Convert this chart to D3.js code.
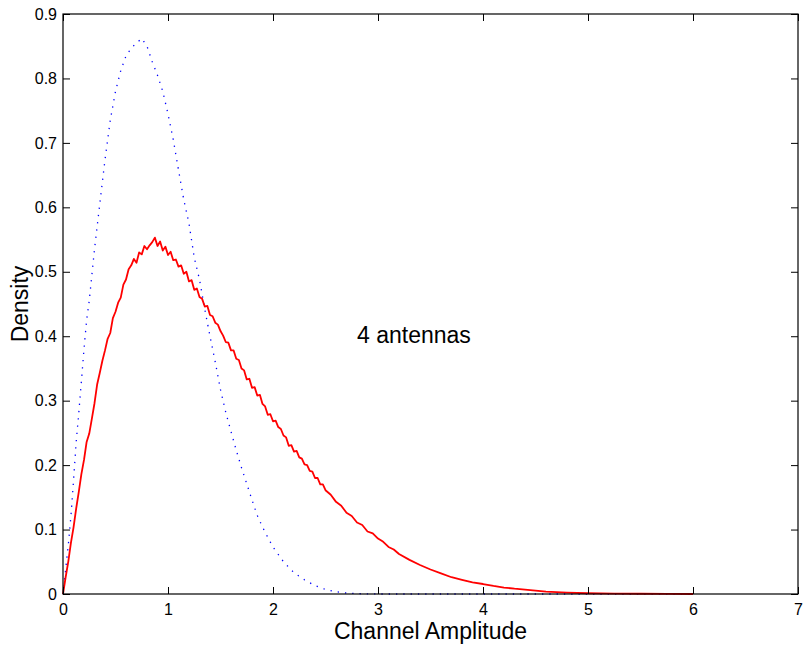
<!DOCTYPE html>
<html>
<head>
<meta charset="utf-8">
<script src="https://cdn.jsdelivr.net/npm/d3@7"></script>
<style>
  html, body { margin: 0; padding: 0; background: #fff; }
  svg { display: block; }
  text { font-family: "Liberation Sans", Arial, sans-serif; fill: #000; }
</style>
</head>
<body>
<svg id="chart" width="807" height="656"></svg>
<script>
// Data
const redX = [0,0.025,0.05,0.075,0.1,0.125,0.15,0.175,0.2,0.225,0.25,0.275,0.3,0.325,0.35,0.375,0.4,0.425,0.45,0.475,0.5,0.525,0.55,0.575,0.6,0.625,0.65,0.675,0.7,0.725,0.75,0.775,0.8,0.825,0.85,0.875,0.9,0.925,0.95,0.975,1.0,1.025,1.05,1.075,1.1,1.125,1.15,1.175,1.2,1.225,1.25,1.275,1.3,1.325,1.35,1.375,1.4,1.425,1.45,1.475,1.5,1.525,1.55,1.575,1.6,1.625,1.65,1.675,1.7,1.725,1.75,1.775,1.8,1.825,1.85,1.875,1.9,1.925,1.95,1.975,2.0,2.025,2.05,2.075,2.1,2.125,2.15,2.175,2.2,2.225,2.25,2.275,2.3,2.325,2.35,2.375,2.4,2.425,2.45,2.475,2.5,2.55,2.6,2.65,2.7,2.75,2.8,2.85,2.9,2.95,3.0,3.05,3.1,3.15,3.2,3.3,3.4,3.5,3.6,3.7,3.8,3.9,4.0,4.1,4.2,4.3,4.4,4.5,4.6,4.8,5.0,5.25,5.5,5.75,6.0];
const redY = [0,0.026,0.05,0.079,0.103,0.132,0.158,0.186,0.208,0.236,0.249,0.272,0.296,0.325,0.343,0.362,0.378,0.396,0.405,0.428,0.438,0.452,0.46,0.48,0.488,0.504,0.51,0.52,0.514,0.53,0.527,0.54,0.535,0.541,0.546,0.553,0.54,0.547,0.533,0.539,0.526,0.531,0.518,0.519,0.508,0.51,0.497,0.5,0.485,0.487,0.472,0.474,0.461,0.458,0.446,0.447,0.433,0.431,0.421,0.418,0.408,0.401,0.391,0.39,0.378,0.378,0.365,0.363,0.35,0.347,0.333,0.334,0.32,0.321,0.308,0.309,0.295,0.291,0.278,0.279,0.268,0.269,0.259,0.256,0.246,0.243,0.23,0.231,0.221,0.222,0.212,0.21,0.201,0.2,0.191,0.19,0.18,0.18,0.17,0.17,0.161,0.154,0.143,0.137,0.126,0.121,0.111,0.107,0.097,0.094,0.086,0.081,0.073,0.069,0.062,0.053,0.045,0.038,0.032,0.026,0.022,0.018,0.0155,0.0125,0.010,0.0082,0.0068,0.0052,0.0038,0.0022,0.0012,0.0007,0.0004,0.0002,0.0];

const blueX = [0,0.02,0.05,0.075,0.1,0.125,0.15,0.175,0.2,0.225,0.25,0.3,0.35,0.4,0.45,0.5,0.55,0.6,0.65,0.7,0.75,0.8,0.85,0.9,0.95,1.0,1.05,1.1,1.15,1.2,1.25,1.3,1.35,1.4,1.45,1.5,1.55,1.6,1.65,1.7,1.75,1.8,1.85,1.9,1.95,2.0,2.1,2.2,2.3,2.4,2.5,2.6,2.7,2.8,3.0,6.0];
const blueY = [0,0.03,0.075,0.12,0.175,0.235,0.28,0.33,0.38,0.425,0.455,0.535,0.605,0.674,0.735,0.78,0.812,0.835,0.847,0.855,0.862,0.85,0.826,0.805,0.78,0.745,0.705,0.658,0.612,0.575,0.522,0.488,0.442,0.40,0.36,0.317,0.282,0.252,0.223,0.196,0.171,0.146,0.122,0.104,0.088,0.073,0.05,0.033,0.022,0.013,0.007,0.0036,0.0015,0.0005,0,0];

const xTicks = [0,1,2,3,4,5,6,7];
const yTicks = [0,0.1,0.2,0.3,0.4,0.5,0.6,0.7,0.8,0.9];
const xTitle = "Channel Amplitude";
const yTitle = "Density";
const annotation = { text: "4 antennas", x: 2.8, y: 0.4 };

const svg = d3.select("#chart");
const m = { left: 63, right: 798, top: 14, bottom: 594 };

const x = d3.scaleLinear().domain([0, 7]).range([m.left, m.right]);
const y = d3.scaleLinear().domain([0, 0.9]).range([m.bottom, m.top]);

const line = d3.line().x(d => x(d[0])).y(d => y(d[1]));

// Blue dotted curve
svg.append("path")
  .datum(d3.zip(blueX, blueY))
  .attr("d", line)
  .attr("fill", "none")
  .attr("stroke", "#0000ff")
  .attr("stroke-width", 1.3)
  .attr("stroke-dasharray", "1.3,6");

// Red solid curve
svg.append("path")
  .datum(d3.zip(redX, redY))
  .attr("d", line)
  .attr("fill", "none")
  .attr("stroke", "#ff0000")
  .attr("stroke-width", 1.8)
  .attr("stroke-linejoin", "round");

// Axes
const fmtY = d => d === 0 ? "0" : d3.format(".1f")(d);
const axB = svg.append("g").attr("transform", `translate(0,${m.bottom})`)
  .call(d3.axisBottom(x).tickValues(xTicks).tickSizeInner(-7).tickSizeOuter(0).tickPadding(10).tickFormat(d3.format("d")));
const axT = svg.append("g").attr("transform", `translate(0,${m.top})`)
  .call(d3.axisTop(x).tickValues(xTicks).tickSizeInner(-7).tickSizeOuter(0).tickFormat(""));
const axL = svg.append("g").attr("transform", `translate(${m.left},0)`)
  .call(d3.axisLeft(y).tickValues(yTicks).tickSizeInner(-7).tickSizeOuter(0).tickPadding(6).tickFormat(fmtY));
const axR = svg.append("g").attr("transform", `translate(${m.right},0)`)
  .call(d3.axisRight(y).tickValues(yTicks).tickSizeInner(-7).tickSizeOuter(0).tickFormat(""));

[axB, axT, axL, axR].forEach(g => {
  g.select(".domain").remove();
  g.selectAll(".tick line").attr("stroke", "#000").attr("stroke-width", 1);
  g.selectAll(".tick text").attr("font-size", 16).attr("font-family", "Liberation Sans, Arial, sans-serif").attr("fill", "#000");
});

// Box
svg.append("rect")
  .attr("x", m.left).attr("y", m.top)
  .attr("width", m.right - m.left).attr("height", m.bottom - m.top)
  .attr("fill", "none").attr("stroke", "#000").attr("stroke-width", 1.2);

// Titles
svg.append("text")
  .attr("x", (m.left + m.right) / 2).attr("y", 639)
  .attr("text-anchor", "middle").attr("font-size", 23)
  .text(xTitle);

svg.append("text")
  .attr("transform", `translate(28,${(m.top + m.bottom) / 2}) rotate(-90)`)
  .attr("text-anchor", "middle").attr("font-size", 23)
  .text(yTitle);

svg.append("text")
  .attr("x", x(annotation.x)).attr("y", y(annotation.y) + 7)
  .attr("font-size", 23)
  .text(annotation.text);
</script>
</body>
</html>
